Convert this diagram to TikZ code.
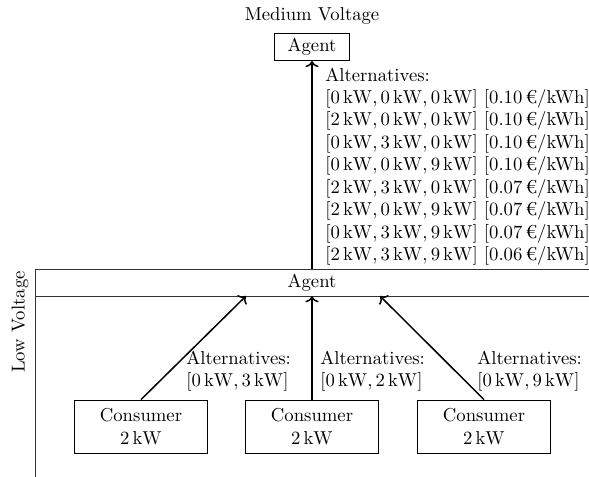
\documentclass[tikz,border=0pt]{standalone}
\usepackage{amsmath}
\usepackage{tikz}
\usetikzlibrary{arrows.meta, positioning}

\tikzset{
  >=To,  % default arrow tip
  % boxes
  agentbox/.style={draw,minimum width=40pt,minimum height=14.4pt,inner sep=2pt},
  consumerbox/.style={draw,align=center,minimum width=71pt,minimum height=28.4pt,inner sep=2pt},
  % labels
  altlabel/.style={anchor=west,align=left,inner sep=0pt},
  band/.style={black!80}
}

\begin{document}
\begin{tikzpicture}[x=0.535pt,y=-0.535pt,
      arr/.style={->,thick}]
      \useasboundingbox (0,0) rectangle (589,477);
      % low voltage band
      \draw[band] (35,477) -- (35,269) -- (589,269);
      \draw[band] (35,296) -- (589,296);
      \node[rotate=90] (lv) at (20,322) {Low Voltage};
      \node (agentlv) at (312,282.5) {Agent};
      \coordinate (up) at (312,269);
      \coordinate (in1) at (246,296);
      \coordinate (in2) at (312,296);
      \coordinate (in3) at (380,296);
      % medium voltage
      \node (mv) at (312,16) {Medium Voltage};
      \node[agentbox] (agentmv) at (312,47) {Agent};
      \draw[arr] (up) -- (agentmv);
      \node[altlabel] (altmv) at (325,166.5) {Alternatives:\\
        $[0\,\mathrm{kW}, 0\,\mathrm{kW}, 0\,\mathrm{kW}]$ [0.10\,€/kWh]\\
        $[2\,\mathrm{kW}, 0\,\mathrm{kW}, 0\,\mathrm{kW}]$ [0.10\,€/kWh]\\
        $[0\,\mathrm{kW}, 3\,\mathrm{kW}, 0\,\mathrm{kW}]$ [0.10\,€/kWh]\\
        $[0\,\mathrm{kW}, 0\,\mathrm{kW}, 9\,\mathrm{kW}]$ [0.10\,€/kWh]\\
        $[2\,\mathrm{kW}, 3\,\mathrm{kW}, 0\,\mathrm{kW}]$ [0.07\,€/kWh]\\
        $[2\,\mathrm{kW}, 0\,\mathrm{kW}, 9\,\mathrm{kW}]$ [0.07\,€/kWh]\\
        $[0\,\mathrm{kW}, 3\,\mathrm{kW}, 9\,\mathrm{kW}]$ [0.07\,€/kWh]\\
        $[2\,\mathrm{kW}, 3\,\mathrm{kW}, 9\,\mathrm{kW}]$ [0.06\,€/kWh]};
      % consumers
      \node[consumerbox] (c1) at (141,426.5) {Consumer\\$2\,\mathrm{kW}$};
      \node[consumerbox] (c2) at (312,426.5) {Consumer\\$2\,\mathrm{kW}$};
      \node[consumerbox] (c3) at (484,426.5) {Consumer\\$2\,\mathrm{kW}$};
      \draw[arr] (c1.north) -- (in1);
      \draw[arr] (c2.north) -- (in2);
      \draw[arr] (c3.north) -- (in3);
      \node[altlabel] (alt1) at (186,371) {Alternatives:\\$[0\,\mathrm{kW}, 3\,\mathrm{kW}]$};
      \node[altlabel] (alt2) at (320,371) {Alternatives:\\$[0\,\mathrm{kW}, 2\,\mathrm{kW}]$};
      \node[altlabel] (alt3) at (477,371) {Alternatives:\\$[0\,\mathrm{kW}, 9\,\mathrm{kW}]$};
    \end{tikzpicture}
\end{document}
